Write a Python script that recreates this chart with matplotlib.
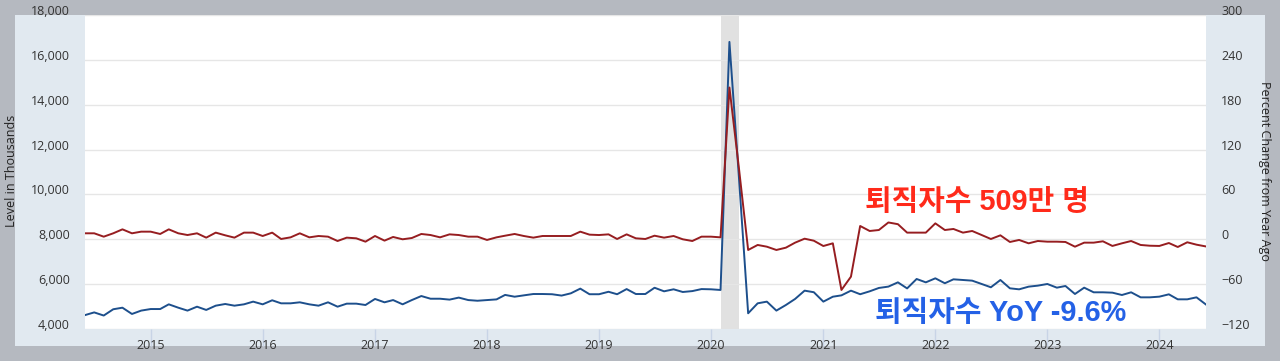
import pandas as pd
import matplotlib
matplotlib.use('Agg')
import matplotlib.pyplot as plt
import matplotlib.dates as mdates
from matplotlib.patches import Rectangle
from matplotlib.ticker import FuncFormatter, MultipleLocator

# monthly, 2014-06 .. 2024-06
START = '2014-06-01'

# total separations, level in thousands (left axis)
level = [
    4620, 4740, 4600, 4880, 4950, 4670, 4820,
    4890, 4890, 5100, 4950, 4820, 4995, 4850, 5040, 5115, 5040, 5100, 5220,
    5100, 5280, 5145, 5145, 5190, 5100, 5040, 5190, 4995, 5130, 5130, 5070,
    5340, 5190, 5290, 5100, 5290, 5470, 5350, 5350, 5310, 5400, 5290, 5260,
    5290, 5320, 5520, 5440, 5500, 5560, 5560, 5550, 5490, 5590, 5800, 5550,
    5550, 5660, 5550, 5780, 5560, 5560, 5840, 5680, 5770, 5650, 5690, 5780,
    5770, 5740, 16800, 10750, 4700, 5145, 5220, 4820, 5070, 5340, 5710, 5640,
    5220, 5440, 5500, 5710, 5550, 5680, 5830, 5890, 6080, 5810, 6230, 6080,
    6260, 6040, 6215, 6185, 6156, 6007, 5860, 6185, 5814, 5769, 5888, 5933,
    6007, 5843, 5918, 5561, 5843, 5636, 5636, 5620, 5516, 5636, 5412, 5412,
    5442, 5546, 5323, 5323, 5412, 5090,
]

# percent change from year ago (right axis)
yoy = [
    8.0, 8.0, 3.5, 8.0, 13.3, 8.0, 10.2,
    10.2, 7.1, 13.3, 8.0, 5.7, 8.0, 2.2, 8.9, 5.3, 2.2, 8.9, 8.9,
    4.4, 8.9, 0.4, 2.6, 8.0, 2.6, 4.4, 3.5, -2.3, 2.2, 1.3, -3.2,
    4.4, -1.8, 3.1, 0.0, 1.7, 7.1, 5.7, 2.6, 6.6, 5.7, 3.5, 3.5,
    -0.9, 2.6, 4.8, 7.1, 4.4, 2.2, 4.4, 4.4, 4.4, 4.4, 10.2, 6.2,
    5.7, 6.6, 0.4, 6.6, 1.3, 0.4, 4.8, 2.2, 4.4, 0.0, -2.3, 3.5,
    3.5, 2.6, 203.0, 95.0, -14.3, -7.6, -9.9, -14.3, -11.2, -4.5, 0.8, -1.9,
    -9.0, -5.4, -67.8, -50.0, 17.8, 11.1, 12.4, 22.5, 20.2, 8.9, 8.9, 8.9,
    21.3, 12.4, 13.8, 8.9, 11.1, 5.7, 0.4, 5.3, -3.6, -0.9, -5.4, -2.3,
    -3.2, -3.2, -3.6, -9.9, -4.5, -4.5, -2.7, -8.9, -5.4, -2.3, -7.6, -8.6,
    -8.9, -5.0, -10.3, -4.0, -7.2, -9.6,
]

recession = ('2020-02-01', '2020-04-01')

label_level = '퇴직자수 509만 명'
label_yoy = '퇴직자수 YoY -9.6%'

dates = pd.date_range(START, periods=len(level), freq='MS')

W, H = 1280, 361
fig = plt.figure(figsize=(W / 100, H / 100), dpi=100)
fig.patch.set_facecolor('#b5b9c0')
fig.patches.append(Rectangle((15 / W, 1 - 346 / H), 1250 / W, 331 / H,
                             transform=fig.transFigure, facecolor='#e1e9f0',
                             edgecolor='none', zorder=-5))

ax = fig.add_axes([85 / W, 1 - 329 / H, 1121 / W, 314 / H])
ax.set_facecolor('white')
ax2 = ax.twinx()
ax2.patch.set_visible(False)

ax.axvspan(pd.Timestamp(recession[0]), pd.Timestamp(recession[1]),
           color='#e1e1e1', lw=0, zorder=0)
ax.plot(dates, level, color='#1d4f8c', lw=1.4, zorder=3)
ax2.plot(dates, yoy, color='#961d20', lw=1.4, zorder=3)

ax.set_xlim(dates[0], dates[-1])
ax.set_ylim(4000, 18000)
ax2.set_ylim(-120, 300)
ax.yaxis.set_major_locator(MultipleLocator(2000))
ax2.yaxis.set_major_locator(MultipleLocator(60))
ax.yaxis.set_major_formatter(FuncFormatter(lambda v, p: f'{int(v):,}'))
ax.grid(axis='y', color='#e6e6e6', lw=1)
ax.set_axisbelow(True)

ax.xaxis.set_major_locator(mdates.YearLocator())
ax.xaxis.set_major_formatter(mdates.DateFormatter('%Y'))

for a in (ax, ax2):
    for s in a.spines.values():
        s.set_visible(False)
ax.tick_params(axis='y', length=0, pad=11, labelcolor='#333333')
ax2.tick_params(axis='y', length=0, pad=11, labelcolor='#333333')
ax.tick_params(axis='x', length=12, width=1, color='#c8d4e6', pad=-5,
               labelcolor='#333333')
for lab in ax.get_xticklabels() + ax.get_yticklabels() + ax2.get_yticklabels():
    lab.set_fontfamily('Open Sans')
    lab.set_fontsize(9)
# FRED puts the y labels just above their grid lines
for t in ax.yaxis.get_major_ticks():
    t.label1.set_verticalalignment('baseline')
for t in ax2.yaxis.get_major_ticks():
    t.label2.set_verticalalignment('baseline')

fig.text(12 / W, 1 - 171 / H, 'Level in Thousands', rotation=90,
         ha='center', va='center', fontsize=9, family='Open Sans', color='#222222')
fig.text(1265 / W, 1 - 171 / H, 'Percent Change from Year Ago', rotation=270,
         ha='center', va='center', fontsize=9, family='Open Sans', color='#222222')

kfont = ['Liberation Sans', 'Noto Sans CJK KR']
fig.text(865 / W, 1 - 202 / H, label_level, ha='left', va='center',
         fontsize=20.8, fontweight='bold', family=kfont, color='#ff2a1a')
fig.text(875 / W, 1 - 313 / H, label_yoy, ha='left', va='center',
         fontsize=20.8, fontweight='bold', family=kfont, color='#2461e6')

fig.savefig('out.png', dpi=100, facecolor=fig.get_facecolor())
